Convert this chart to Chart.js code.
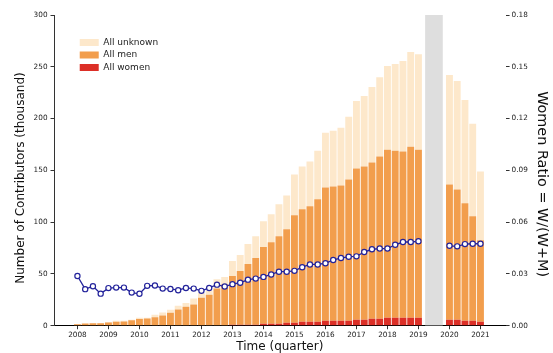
<!DOCTYPE html>
<html>
<head>
<meta charset="utf-8">
<script src="https://cdn.jsdelivr.net/npm/chart.js@4.4.1/dist/chart.umd.min.js"></script>
<style>
  html, body { margin: 0; padding: 0; background: #ffffff; }
  #wrap { width: 553px; height: 353px; position: relative; }
</style>
</head>
<body>
<div id="wrap"><canvas id="c"></canvas></div>
<script>
// ---- data (thousands of contributors per quarter; ratio on right axis) ----
const quarters = [
  '2008Q1','2008Q2','2008Q3','2008Q4','2009Q1','2009Q2','2009Q3','2009Q4',
  '2010Q1','2010Q2','2010Q3','2010Q4','2011Q1','2011Q2','2011Q3','2011Q4',
  '2012Q1','2012Q2','2012Q3','2012Q4','2013Q1','2013Q2','2013Q3','2013Q4',
  '2014Q1','2014Q2','2014Q3','2014Q4','2015Q1','2015Q2','2015Q3','2015Q4',
  '2016Q1','2016Q2','2016Q3','2016Q4','2017Q1','2017Q2','2017Q3','2017Q4',
  '2018Q1','2018Q2','2018Q3','2018Q4','2019Q1','2019Q2','2019Q3','2019Q4',
  '2020Q1','2020Q2','2020Q3','2020Q4','2021Q1'
];
const yearTicks = [2008,2009,2010,2011,2012,2013,2014,2015,2016,2017,2018,2019,2020,2021];

const allWomen = [
  0,0,0,0,0,0,0,0,0,0,0,0,0,0,0,0,0,0,0,0,
  1,1,1,1,2,2,2,3,3,3.8,3.8,3.8,4.8,4.8,4.8,4.8,5.8,5.8,6.7,6.7,7.7,7.7,7.7,7.7,7.7,
  null,null,null,
  5.8,5.8,4.8,4.8,3.8
];
const allMen = [
  1.5,2.1,2.3,2.3,3.2,3.8,4.2,5.2,6.5,7.0,8.2,9.9,12.6,15.7,18.3,20.5,27,30,36,40,
  47,51.8,58.6,64.3,74,78.7,84.5,90.2,103.6,108.6,111.5,118.2,128.7,129.7,130.6,136.4,
  146,147.9,150.8,156.6,162.3,161.3,160.4,165.2,162.3,
  null,null,null,
  130.6,125.8,113.4,100.9,78.8
];
const allUnknown = [
  0.1,0.1,0.2,0.3,0.3,1.0,0.6,0.6,1.3,0.6,2.4,2.9,2.8,3.5,3.7,5.7,4.6,4,9,7,
  14.4,15.5,19.2,21.2,24.9,26.9,30.7,32.6,39.4,41.3,43.2,47,52.9,53.8,55.8,60.5,
  65.2,68.2,73,76.7,80.7,83.6,87.4,91.3,92.2,
  null,null,null,
  105.6,104.7,99.8,89.3,66.3
];
const womenRatio = [
  0.0288,0.0212,0.0229,0.0186,0.0218,0.0221,0.0221,0.0192,0.0185,0.0231,0.0233,0.0215,
  0.0213,0.0206,0.0219,0.0215,0.0202,0.0219,0.0238,0.0227,0.0241,0.0249,0.0267,0.0273,
  0.0283,0.0297,0.0313,0.0313,0.0318,0.0339,0.0355,0.0355,0.0362,0.0381,0.0392,0.0400,
  0.0402,0.0427,0.0443,0.0447,0.0447,0.0469,0.0485,0.0485,0.0489,
  null,null,null,
  0.0463,0.0460,0.0473,0.0475,0.0475
];
const missingQuarter = '2019Q3';
const missingHeight = 300;

// ---- build chart ----
const FONT = 'DejaVu Sans';
Chart.defaults.font.family = FONT;
Chart.defaults.color = '#222';

const qx = q => parseInt(q.slice(0, 4), 10) + (parseInt(q.slice(5), 10) - 1) / 4;
const pts = arr => quarters.map((q, i) => ({ x: qx(q), y: arr[i] }));

const legendShift = {
  id: 'legendShift',
  afterLayout(chart) {
    const lg = chart.legend;
    if (!lg) return;
    const ca = chart.chartArea;
    lg.left = ca.left + 22.2;
    lg.top = ca.top + 19.6;
    lg.right = lg.left + lg.width;
    lg.bottom = lg.top + lg.height;
  }
};

new Chart(document.getElementById('c'), {
  type: 'bar',
  data: {
    datasets: [
      { label: 'All women', data: pts(allWomen), backgroundColor: '#dc2f27', borderWidth: 0,
        barPercentage: 0.89, categoryPercentage: 1.0, yAxisID: 'y' },
      { label: 'All men', data: pts(allMen), backgroundColor: '#f29e4d', borderWidth: 0,
        barPercentage: 0.89, categoryPercentage: 1.0, yAxisID: 'y' },
      { label: 'All unknown', data: pts(allUnknown), backgroundColor: '#fde8cb', borderWidth: 0,
        barPercentage: 0.89, categoryPercentage: 1.0, yAxisID: 'y' },
      { label: 'no data', data: [{ x: qx(missingQuarter), y: missingHeight }], backgroundColor: '#dedede',
        borderWidth: 0, barThickness: 17, yAxisID: 'y' },
      { type: 'line', label: 'Women ratio', data: pts(womenRatio), yAxisID: 'y2', order: -1,
        borderColor: '#23239b', borderWidth: 1.3, pointRadius: 2.6, pointBorderWidth: 1.2,
        pointBackgroundColor: '#ffffff', pointBorderColor: '#23239b', spanGaps: false, tension: 0 }
    ]
  },
  options: {
    responsive: true,
    maintainAspectRatio: false,
    animation: false,
    layout: { padding: { left: 10, right: 2.6, top: 15, bottom: 0 } },
    plugins: {
      tooltip: { enabled: false },
      legend: {
        position: 'chartArea',
        align: 'start',
        reverse: true,
        labels: {
          boxWidth: 19, boxHeight: 7, padding: 3.5,
          font: { size: 9, family: FONT }, color: '#222',
          filter: (item) => item.text === 'All women' || item.text === 'All men' || item.text === 'All unknown'
        }
      }
    },
    scales: {
      x: {
        type: 'linear',
        stacked: true,
        offset: false,
        min: 2007.245,
        max: 2021.81,
        grid: { offset: false, drawOnChartArea: false, drawTicks: true, tickLength: 3.5, color: '#333' },
        border: { display: true, color: '#000', width: 1 },
        afterBuildTicks: (scale) => { scale.ticks = yearTicks.map(v => ({ value: v })); },
        ticks: {
          autoSkip: false, maxRotation: 0, padding: 1,
          font: { size: 7.3, family: FONT }, color: '#222',
          callback: (v) => String(Math.round(v))
        },
        title: { display: true, text: 'Time (quarter)', color: '#111',
          font: { size: 12, family: FONT, lineHeight: 1 }, padding: { top: 1, bottom: 0 } }
      },
      y: {
        position: 'left',
        stacked: true,
        min: 0, max: 300,
        grid: { drawOnChartArea: false, drawTicks: true, tickLength: 3.5, color: '#333' },
        border: { display: true, color: '#333', width: 1 },
        ticks: { stepSize: 50, padding: 3, font: { size: 7.3, family: FONT }, color: '#222' },
        title: { display: true, text: 'Number of Contributors (thousand)    ', color: '#111',
          font: { size: 12, family: FONT, lineHeight: 1.2 }, padding: { top: 3.2, bottom: 3 } }
      },
      y2: {
        position: 'right',
        min: 0, max: 0.18,
        grid: { drawOnChartArea: false, drawTicks: true, tickLength: 4, color: '#333' },
        border: { display: false },
        ticks: { stepSize: 0.03, padding: 2, font: { size: 7.3, family: FONT }, color: '#222',
          callback: (v) => Number(v).toFixed(2) },
        title: { display: true, text: '      Women Ratio = W/(W+M)', color: '#111',
          font: { size: 14.4, family: FONT, lineHeight: 1.2 }, padding: { top: 0, bottom: 3.3 } }
      }
    }
  },
  plugins: [legendShift]
});
</script>
</body>
</html>
